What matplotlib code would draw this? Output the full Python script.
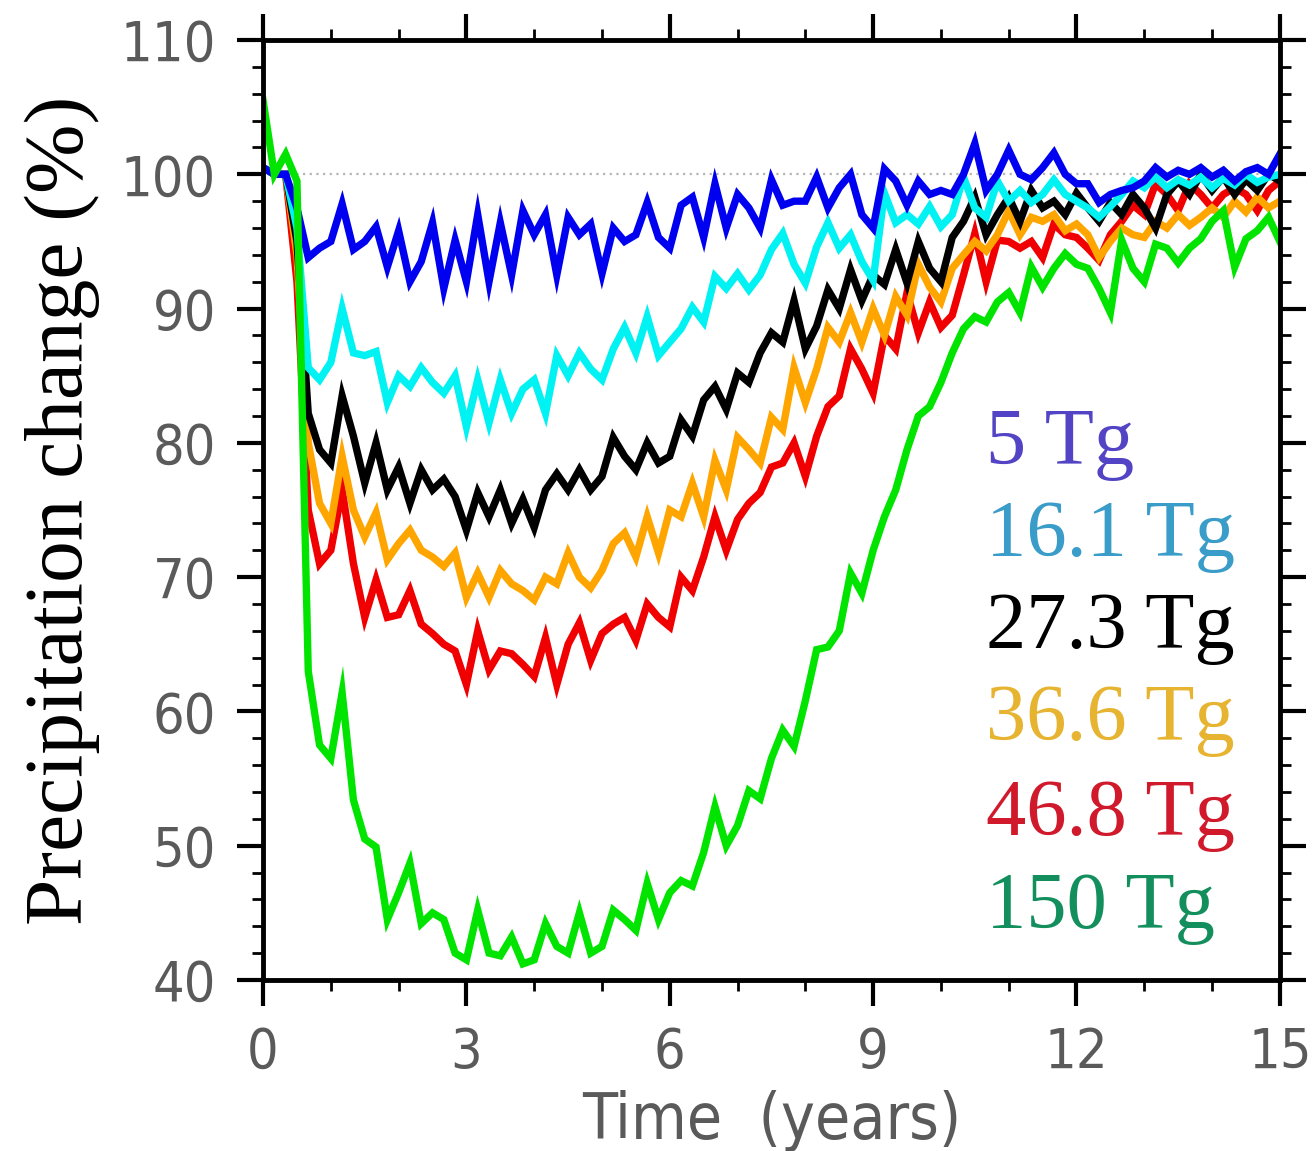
import numpy as np
import matplotlib
matplotlib.use("Agg")
import matplotlib.pyplot as plt
from matplotlib import font_manager
from matplotlib.ticker import MultipleLocator

# time axis: one value every two months over 15 years
months = np.arange(0, 181, 2)
years = months / 12.0

blue_5 = [100.5, 100, 100, 97.5, 93.8, 94.5, 95, 97.8, 94.4, 95,
          96.1, 93.1, 95.8, 92, 93.5, 96.4, 91.5, 95.1, 92, 97,
          92, 96.4, 92.5, 97.3, 95.5, 97, 92.5, 96.8, 95.5, 96.3,
          92.6, 96, 95, 95.5, 97.9, 95.3, 94.5, 97.7, 98.3, 95.3,
          99.3, 96, 98.5, 97.5, 96, 99.6, 97.7, 98, 98, 99.8,
          97.5, 99, 100, 97, 96, 100.4, 99.5, 97.7, 99.5, 98.5,
          98.8, 98.5, 100, 102.3, 98.8, 100, 101.8, 100, 99.6, 100.5,
          101.6, 100, 99.3, 99.3, 97.9, 98.5, 98.8, 99, 99.5, 100.5,
          99.8, 100.3, 100, 100.5, 99.8, 100.3, 99.5, 100.2, 100.5, 100,
          101.5]

cyan_16 = [100.5, 100, 100, 96, 85.6, 84.7, 86, 90, 86.7, 86.5,
           86.8, 83, 85, 84.2, 85.6, 84.5, 83.7, 85, 81.2, 84.7,
           81.5, 84.7, 82.2, 84, 84.7, 82.2, 86.5, 85, 86.7, 85.5,
           84.7, 87, 88.6, 86.7, 89.4, 86.5, 87.5, 88.5, 90.1, 89,
           92.4, 91.5, 92.6, 91.4, 92.5, 94.4, 95.6, 93.3, 91.9, 94.6,
           96.4, 94.5, 95.5, 93.5, 92.1, 98.6, 96.4, 97, 96.3, 97.6,
           96.1, 97, 99.8, 97.5, 96.8, 99.5, 98, 98.8, 97.9, 98.5,
           99.6, 98.5, 98, 97.5, 96.8, 97.6, 98.5, 99.5, 99, 99.8,
           99, 99.6, 99.2, 99.8, 99, 99.7, 99.2, 100, 99.4, 99.8,
           100]

black_27 = [100.5, 100, 100, 95, 82.2, 79.5, 78.5, 83.5, 80.5, 77,
            80, 76.5, 78.2, 75.5, 78, 76.5, 77.3, 76, 73.5, 76.3,
            74.5, 76.5, 74, 75.8, 73.7, 76.5, 77.7, 76.5, 78, 76.5,
            77.5, 80.4, 79, 78, 80, 78.5, 79, 81.7, 80.5, 83.2,
            84.2, 82.5, 85.2, 84.5, 86.7, 88.2, 87.5, 90.6, 87, 88.7,
            91.4, 90, 92.9, 90.6, 92.5, 91.8, 94.4, 91.9, 95, 93,
            92, 95.3, 96.5, 98.3, 95.5, 97, 98.3, 96.5, 98.8, 97.5,
            98, 97, 98.6, 97.5, 96.5, 97.9, 97, 98.5, 97.5, 96,
            98.5, 99.5, 98.5, 100, 98.8, 99.8, 98.5, 99.6, 98.8, 100,
            99.5]

orange_36 = [100.5, 100, 100, 94, 80, 75.5, 74, 79, 75, 73,
             74.8, 71.3, 72.5, 73.5, 72, 71.5, 70.8, 71.8, 68.5, 70.3,
             68.5, 70.5, 69.5, 69, 68.3, 70, 69.5, 71.8, 70, 69.2,
             70.5, 72.5, 73.3, 71.5, 74.5, 71.8, 75, 74.5, 77, 74.5,
             78.7, 76.5, 80.4, 79.5, 78.5, 81.9, 81, 85.6, 83, 85.5,
             88.6, 87.5, 89.7, 87.5, 90, 88, 90.9, 89.5, 93.3, 91.6,
             90.5, 93, 94, 95, 94.3, 95.5, 97.3, 95.5, 96.8, 96.5,
             97, 95.8, 96.3, 95.5, 93.8, 95, 96, 95.5, 95.3, 96.5,
             96, 97, 96.2, 96.8, 97.5, 96.8, 98, 97.2, 98.3, 97.5,
             98]

red_46 = [100.5, 100, 100, 92, 75, 71, 72, 76.5, 71, 67,
          69.8, 67, 67.2, 69, 66.5, 65.8, 65, 64.5, 62, 66,
          63.1, 64.5, 64.3, 63.5, 62.6, 65.5, 62, 65, 66.6, 63.8,
          65.8, 66.5, 67, 65.3, 68, 67, 66.3, 70, 69, 71.5,
          74.5, 72, 74.3, 75.5, 76.3, 78.2, 78.5, 80, 77.5, 80.5,
          82.7, 83.5, 87, 85.5, 83.7, 88, 87, 91.2, 88.2, 90.5,
          88.6, 89.5, 92.5, 95.6, 92, 95.1, 95, 94.5, 95, 93.8,
          96.3, 95.5, 95.3, 94.5, 93.6, 95.5, 96.5, 97.7, 97, 99.3,
          98.5, 97.3, 99.3, 98.5, 97.5, 98.5, 99, 98.5, 97.3, 98.8,
          99.5]

green_150 = [105.5, 100, 101.5, 99.5, 63, 57.5, 56.5, 61.4, 53.4, 50.5,
             49.9, 44.5, 46.5, 48.7, 44.2, 45, 44.5, 42, 41.5, 45.2,
             42, 41.8, 43.2, 41.2, 41.5, 44.2, 42.5, 42, 45, 42,
             42.5, 45.2, 44.5, 43.7, 47.2, 44.5, 46.5, 47.4, 47, 49.5,
             52.9, 50, 51.5, 54.1, 53.5, 56.5, 58.6, 57.4, 60.8, 64.6,
             64.8, 66, 70.3, 68.8, 72, 74.5, 76.5, 79.5, 82, 82.7,
             84.5, 86.7, 88.5, 89.4, 89, 90.5, 91.2, 89.7, 93.1, 91.6,
             93, 94.1, 93.3, 93, 91.5, 89.7, 95.1, 93, 92, 94.8,
             94.5, 93.4, 94.5, 95.2, 96.5, 97.3, 93.1, 95.2, 95.8, 96.8,
             95]

labels = ["5 Tg", "16.1 Tg", "27.3 Tg", "36.6 Tg", "46.8 Tg", "150 Tg"]
label_colors = ["#5244c4", "#3a9cc8", "#000000", "#e6b430", "#d01a2c", "#138f5e"]
label_y = [78.4, 71.6, 64.7, 57.9, 50.8, 43.9]

series = [
    (red_46, "#f00000"),
    (orange_36, "#ffa500"),
    (black_27, "#000000"),
    (cyan_16, "#00f2f2"),
    (blue_5, "#0000f0"),
    (green_150, "#00e400"),
]

names = {f.name for f in font_manager.fontManager.ttflist}
if "Liberation Sans Narrow" in names:
    axis_font = {"family": "Liberation Sans Narrow"}
else:
    axis_font = {"family": "DejaVu Sans", "stretch": "condensed"}
serif = ["Liberation Serif", "DejaVu Serif"]
grey = "#5a5a5a"

fig = plt.figure(figsize=(13.12, 11.51), dpi=100)
ax = fig.add_axes([0.2005, 0.1486, 0.775, 0.8166])

ax.axhline(100, color="#b4b4b4", linestyle=(0, (1, 2)), linewidth=1.6, zorder=1)
for values, color in series:
    ax.plot(years, values, color=color, linewidth=5.3, solid_joinstyle="miter", zorder=2)

for text, color, y in zip(labels, label_colors, label_y):
    ax.text(10.66, y, text, color=color, fontsize=58, family=serif, va="baseline", ha="left")

ax.set_xlim(0, 15)
ax.set_ylim(40, 110)
ax.xaxis.set_major_locator(MultipleLocator(3))
ax.xaxis.set_minor_locator(MultipleLocator(1))
ax.yaxis.set_major_locator(MultipleLocator(10))
ax.yaxis.set_minor_locator(MultipleLocator(2))

ax.tick_params(which="both", direction="out", top=True, right=True, colors="black")
ax.tick_params(which="major", length=19, width=3)
ax.tick_params(which="minor", length=8, width=2)
ax.tick_params(axis="y", which="major", pad=15, labelcolor=grey)
ax.tick_params(axis="x", which="major", pad=14, labelcolor=grey)
for lab in ax.get_xticklabels() + ax.get_yticklabels():
    lab.set_fontsize(40)
    lab.set_fontfamily(axis_font["family"])
    if "stretch" in axis_font:
        lab.set_fontstretch(axis_font["stretch"])

for spine in ax.spines.values():
    spine.set_linewidth(3.5)

ax.set_xlabel("Time  (years)", fontsize=46, color=grey, labelpad=7, **axis_font)
ax.set_ylabel("Precipitation change (%)", fontsize=60, family=serif, va="center")
ax.yaxis.set_label_coords(-0.197, 0.5)

fig.savefig("out.png", dpi=100)
